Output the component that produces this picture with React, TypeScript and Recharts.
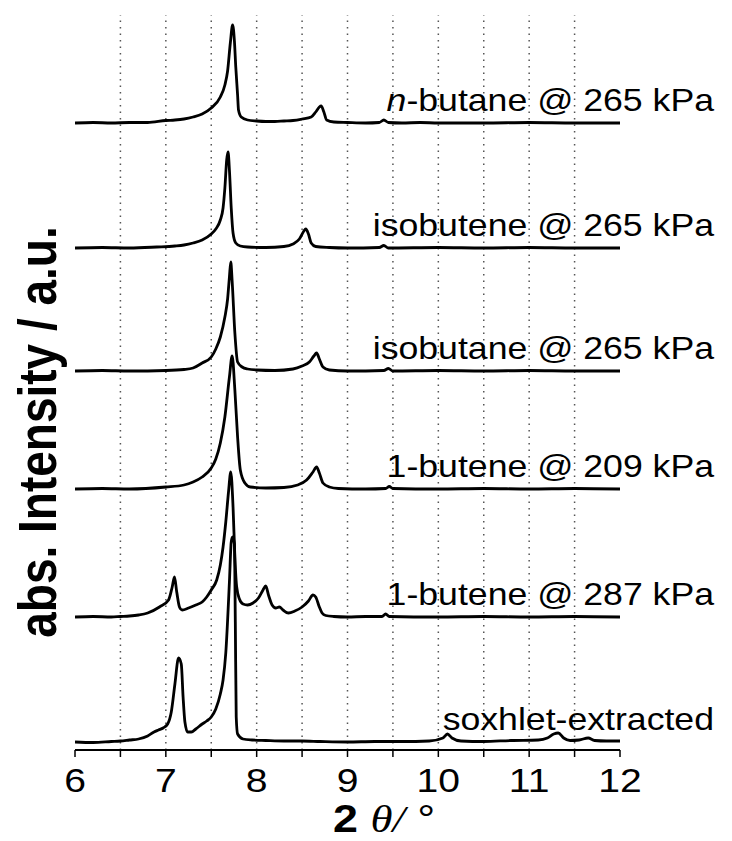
import React from 'react';
import { LineChart, Line, XAxis, YAxis, ReferenceLine, ReferenceDot } from 'recharts';

// 2θ positions (degrees) and intensities (a.u., above each trace's own baseline)
const soxhlet: [number, number][] = [
  [6.0, 0], [6.2, -0.5], [6.4, 0.5], [6.5, 1], [6.6, 2], [6.7, 3], [6.8, 6], [6.87, 10], [6.92, 12],
  [6.97, 14], [7.02, 18], [7.06, 30], [7.1, 58], [7.14, 84], [7.17, 78], [7.19, 45], [7.21, 20],
  [7.24, 10], [7.28, 10], [7.33, 13], [7.4, 18], [7.45, 21], [7.5, 25], [7.55, 33], [7.6, 48],
  [7.63, 62], [7.66, 89], [7.7, 160], [7.72, 200], [7.735, 205], [7.755, 198], [7.765, 120],
  [7.775, 25], [7.79, 8], [7.85, 3], [7.95, 2], [8.1, 1.5], [8.3, 1], [8.5, 1], [8.7, 0.5], [9.0, 0],
  [9.3, 0.5], [9.6, 0.5], [9.9, 1], [10.05, 4], [10.1, 8], [10.15, 4], [10.25, 1], [10.5, 0.5],
  [10.8, 1.5], [11.1, 2], [11.2, 4], [11.27, 8], [11.32, 9], [11.38, 4], [11.45, 1.5], [11.55, 2],
  [11.65, 4], [11.72, 1.5], [11.85, 1], [12.0, 1],
];
const butene287: [number, number][] = [
  [6.0, 0], [6.2, 0.5], [6.4, 0], [6.5, 0.5], [6.6, 1], [6.7, 2], [6.8, 4], [6.93, 10], [7.03, 17],
  [7.07, 30], [7.095, 40], [7.12, 25], [7.15, 10], [7.18, 7], [7.25, 9], [7.33, 12], [7.4, 15],
  [7.45, 20], [7.5, 27], [7.56, 37], [7.6, 52], [7.63, 70], [7.66, 95], [7.69, 125], [7.715, 145],
  [7.74, 110], [7.76, 60], [7.78, 30], [7.81, 18], [7.85, 13], [7.9, 12], [7.96, 14], [8.02, 19],
  [8.07, 27], [8.1, 31], [8.13, 22], [8.17, 12], [8.21, 9], [8.25, 10], [8.29, 7], [8.35, 4],
  [8.42, 6], [8.5, 10], [8.57, 16], [8.62, 22], [8.65, 20], [8.69, 10], [8.72, 4], [8.76, 1.5],
  [8.85, 0.5], [9.0, 0], [9.2, 0.5], [9.38, 0.5], [9.42, 3], [9.46, 0.5], [10.0, 0], [10.5, 0.5],
  [11.0, 0], [11.5, 0.5], [12.0, 0],
];
const butene209: [number, number][] = [
  [6.0, 0], [6.3, 0.5], [6.6, 0], [7.0, 2], [7.2, 4], [7.3, 7], [7.4, 12], [7.5, 21], [7.55, 30],
  [7.6, 46], [7.65, 72], [7.7, 112], [7.73, 133], [7.76, 99], [7.79, 52], [7.82, 19], [7.87, 6],
  [7.93, 2], [8.1, 1], [8.3, 1.5], [8.45, 4], [8.55, 9], [8.62, 17], [8.66, 22], [8.69, 16],
  [8.73, 6], [8.8, 2], [8.9, 0.5], [9.2, 0], [9.42, 0.5], [9.46, 2.5], [9.5, 0.5], [10.0, 0],
  [10.5, 0.5], [11.0, 0], [11.5, 0.5], [12.0, 0],
];
const isobutane: [number, number][] = [
  [6.0, 0], [6.3, 0.5], [6.6, 0], [7.0, 0.5], [7.2, 1.5], [7.3, 3], [7.4, 8], [7.5, 14], [7.55, 22],
  [7.6, 34], [7.65, 54], [7.68, 72], [7.7, 94], [7.715, 109], [7.73, 90], [7.76, 38], [7.79, 9],
  [7.84, 4], [7.9, 2], [8.0, 1], [8.2, 0.5], [8.4, 2], [8.5, 5], [8.58, 9], [8.63, 15], [8.66, 18],
  [8.69, 12], [8.73, 4], [8.8, 1], [9.0, 0], [9.4, 0.5], [9.45, 2.5], [9.5, 0], [10.0, 0.5],
  [10.5, 0], [11.0, 0.5], [11.5, 0], [12.0, 0],
];
const isobutene: [number, number][] = [
  [6.0, 0], [6.3, 0.5], [6.6, 0], [6.9, 1], [7.1, 2], [7.2, 3], [7.3, 5], [7.4, 8], [7.5, 14],
  [7.55, 19], [7.6, 28], [7.63, 40], [7.65, 60], [7.67, 88], [7.685, 96], [7.7, 78], [7.72, 40],
  [7.74, 15], [7.77, 5], [7.82, 2], [7.9, 1], [8.1, 0.5], [8.3, 1.5], [8.4, 4], [8.47, 9],
  [8.52, 17], [8.54, 19], [8.57, 14], [8.6, 5], [8.65, 1.5], [8.8, 0.5], [9.0, 0], [9.35, 0.5],
  [9.4, 2.5], [9.45, 0], [10.0, 0.5], [10.5, 0], [11.0, 0.5], [11.5, 0], [12.0, 0],
];
const nbutane: [number, number][] = [
  [6.0, 0], [6.2, 0.5], [6.4, 0], [6.6, 0.5], [6.8, 0.5], [7.0, 2.5], [7.1, 3], [7.2, 4], [7.3, 6],
  [7.4, 9], [7.5, 15], [7.6, 26], [7.65, 38], [7.68, 52], [7.71, 80], [7.735, 98], [7.755, 82],
  [7.77, 56], [7.79, 28], [7.8, 13], [7.83, 6], [7.9, 3], [8.0, 2], [8.1, 1.5], [8.2, 1.5],
  [8.3, 2], [8.4, 2.5], [8.5, 4], [8.6, 6], [8.65, 11], [8.69, 16], [8.71, 17], [8.74, 11],
  [8.77, 3], [8.85, 1], [9.0, 0.5], [9.2, 0], [9.35, 0.5], [9.4, 3], [9.45, 0.5], [9.6, 0],
  [9.8, 0.5], [10.0, 0], [10.5, 0], [11.0, 0.5], [11.5, 0], [12.0, 0],
];

const SERIES_PROFILES = [soxhlet, butene287, butene209, isobutane, isobutene, nbutane];
const SERIES_NAMES = [
  'soxhlet-extracted',
  '1-butene @ 287 kPa',
  '1-butene @ 209 kPa',
  'isobutane @ 265 kPa',
  'isobutene @ 265 kPa',
  'n-butane @ 265 kPa',
];
const SERIES_OFFSETS = [8, 133, 261, 379, 502, 627];

const X_TICKS = [6, 6.5, 7, 7.5, 8, 8.5, 9, 9.5, 10, 10.5, 11, 11.5, 12];
const GRID_X = [6.5, 7, 7.5, 8, 8.5, 9, 9.5, 10, 10.5, 11, 11.5];
const Y_DOMAIN: [number, number] = [0, 735];
const Y_TITLE = 'abs. Intensity / a.u.';
const Y_TITLE_ANCHOR = 318; // vertical centre of the y-axis title, in axis units

const SANS = '"Liberation Sans", Arial, sans-serif';
const SERIF = '"Liberation Serif", "Times New Roman", serif';
const STRETCH = 1.15;

const seriesData = SERIES_PROFILES.map((profile, i) =>
  profile.map(([x, v]) => ({ x, y: v + SERIES_OFFSETS[i] }))
);

const XTick = (props: any) => {
  const { x, y, payload } = props;
  const v = payload.value;
  if (!Number.isInteger(v)) return <g />;
  return (
    <g>
      <text
        transform={`translate(${x},${y + 33}) scale(${STRETCH},1)`}
        textAnchor="middle"
        fontFamily={SANS}
        fontSize={34}
        fill="#000"
      >
        {v}
      </text>
    </g>
  );
};

const XTitle = (props: any) => {
  const { viewBox } = props;
  const x = viewBox.x + 258;
  const y = viewBox.y + 82;
  return (
    <text transform={`translate(${x},${y}) scale(${STRETCH},1)`} textAnchor="start" fontSize={39} fill="#000">
      <tspan fontFamily={SANS} fontWeight="bold">2 </tspan>
      <tspan fontFamily={SERIF} fontStyle="italic">θ/</tspan>
      <tspan fontFamily={SANS}> °</tspan>
    </text>
  );
};

const YTitle = (props: any) => {
  const { viewBox } = props;
  const cx = viewBox.x + viewBox.width / 2;
  const cy = viewBox.y + viewBox.height / 2;
  const x = cx - 19;
  return (
    <text
      transform={`translate(${x},${cy}) scale(${STRETCH},1) rotate(-90)`}
      textAnchor="middle"
      fontFamily={SANS}
      fontWeight="bold"
      fontSize={46}
      fill="#000"
    >
      {Y_TITLE}
    </text>
  );
};

const SeriesLabel = (props: any) => {
  const { viewBox, name } = props;
  const cx = viewBox.x + viewBox.width / 2;
  const cy = viewBox.y + viewBox.height / 2;
  const x = cx + 94;
  const y = cy - 12;
  const italicN = name.startsWith('n-');
  return (
    <text
      transform={`translate(${x},${y}) scale(${STRETCH},1)`}
      textAnchor="end"
      fontFamily={SANS}
      fontSize={31}
      fill="#000"
    >
      {italicN ? (
        <>
          <tspan fontStyle="italic">n</tspan>
          <tspan>{name.slice(1)}</tspan>
        </>
      ) : (
        name
      )}
    </text>
  );
};

export default function App() {
  return (
    <div style={{ width: 716, height: 833 }}>
      <LineChart width={716} height={833} margin={{ top: 7, right: 104, bottom: 0, left: 67 }}>
        <XAxis
          type="number"
          dataKey="x"
          domain={[6, 12]}
          ticks={X_TICKS}
          interval={0}
          height={91}
          tickSize={7}
          tickMargin={2}
          axisLine={{ stroke: '#000', strokeWidth: 2 }}
          tickLine={{ stroke: '#000', strokeWidth: 1.5 }}
          tick={(p: any) => <XTick {...p} />}
          label={{ content: (p: any) => <XTitle {...p} /> }}
          allowDataOverflow
        />
        <YAxis
          type="number"
          dataKey="y"
          domain={Y_DOMAIN}
          width={0}
          tick={false}
          tickLine={false}
          axisLine={{ stroke: '#000', strokeWidth: 2 }}
          allowDataOverflow
        />
        {GRID_X.map((g) => (
          <ReferenceLine
            key={`g${g}`}
            x={g}
            stroke="#555"
            strokeWidth={1.5}
            strokeDasharray="1.5 5"
          />
        ))}
        {seriesData.map((d, i) => (
          <Line
            key={SERIES_NAMES[i]}
            data={d}
            dataKey="y"
            type="monotone"
            stroke="#000"
            strokeWidth={2.8}
            dot={false}
            activeDot={false}
            isAnimationActive={false}
          />
        ))}
        {SERIES_NAMES.map((name, i) => (
          <ReferenceDot
            key={`l${i}`}
            x={12}
            y={SERIES_OFFSETS[i]}
            r={1}
            fill="none"
            stroke="none"
            ifOverflow="visible"
            label={{ content: (p: any) => <SeriesLabel {...p} name={name} /> }}
          />
        ))}
        <ReferenceDot
          x={6}
          y={Y_TITLE_ANCHOR}
          r={1}
          fill="none"
          stroke="none"
          ifOverflow="visible"
          label={{ content: (p: any) => <YTitle {...p} /> }}
        />
      </LineChart>
    </div>
  );
}
